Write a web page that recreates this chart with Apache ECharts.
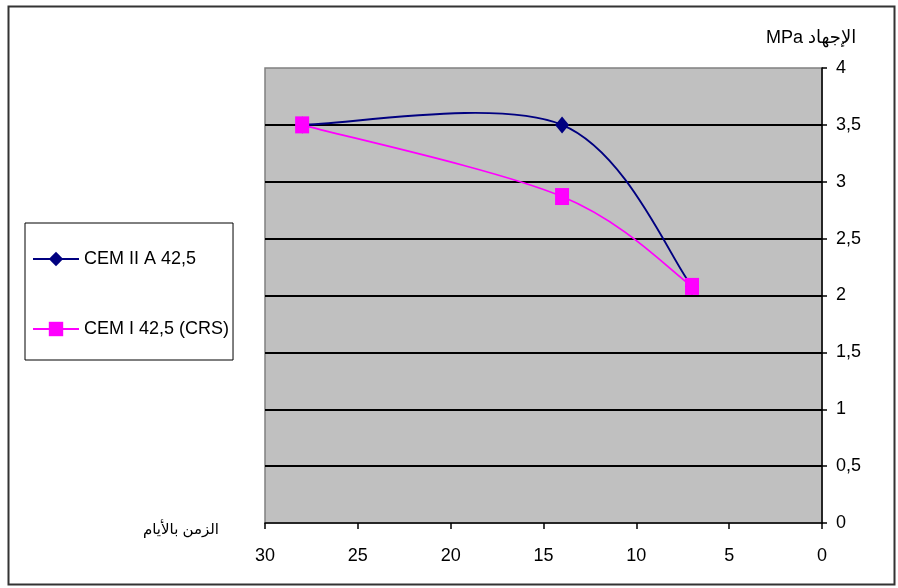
<!DOCTYPE html>
<html>
<head>
<meta charset="utf-8">
<script src="https://cdn.jsdelivr.net/npm/echarts@6/dist/echarts.min.js"></script>
<style>
html,body{margin:0;padding:0;background:#fff;}
#chart{width:898px;height:588px;}
</style>
</head>
<body>
<div id="chart"></div>
<script>
// ---- data ----
const days = [28, 14, 7];
const cemIIA = [3.5, 3.5, 2.08];
const cemICRS = [3.5, 2.87, 2.08];
const seriesNames = ['CEM II A 42,5', 'CEM I 42,5 (CRS)'];
const xTicks = [0, 5, 10, 15, 20, 25, 30];
const yTicks = [0, 0.5, 1, 1.5, 2, 2.5, 3, 3.5, 4];
const yTitle = 'MPa الإجهاد';
const xTitle = 'الزمن بالأيام';

const FONT = "'Liberation Sans', 'DejaVu Sans', Arial, sans-serif";
const NAVY = '#000080';
const PINK = '#ff00ff';

// Excel-like smoothed curve (Catmull-Rom / 6) drawn through axis scales
function curveSeries(name, xs, ys, color) {
  return {
    type: 'custom',
    name: name,
    data: xs.map((x, i) => [x, ys[i]]),
    encode: { x: 0, y: 1 },
    z: 2,
    silent: true,
    renderItem: function (params, api) {
      const i = params.dataIndex;
      const n = xs.length;
      if (i >= n - 1) return { type: 'group', children: [] };
      const P = k => {
        const j = Math.max(0, Math.min(n - 1, k));
        return api.coord([xs[j], ys[j]]);
      };
      const p0 = P(i - 1), p1 = P(i), p2 = P(i + 1), p3 = P(i + 2);
      return {
        type: 'bezierCurve',
        shape: {
          x1: p1[0], y1: p1[1], x2: p2[0], y2: p2[1],
          cpx1: p1[0] + (p2[0] - p0[0]) / 6,
          cpy1: p1[1] + (p2[1] - p0[1]) / 6,
          cpx2: p2[0] - (p3[0] - p1[0]) / 6,
          cpy2: p2[1] - (p3[1] - p1[1]) / 6
        },
        style: { stroke: color, lineWidth: 1.8, fill: null }
      };
    }
  };
}

const chart = echarts.init(document.getElementById('chart'), null, { renderer: 'canvas' });
chart.setOption({
  animation: false,
  backgroundColor: '#ffffff',
  grid: {
    left: 265, right: 76, top: 68, bottom: 65,
    show: true, backgroundColor: '#c0c0c0', borderColor: '#808080', borderWidth: 1.5
  },
  xAxis: {
    type: 'value', min: 0, max: 30, interval: 5, inverse: true, position: 'bottom',
    axisLine: { show: true, onZero: false, lineStyle: { color: '#000', width: 1.5 } },
    axisTick: { show: true, inside: false, length: 6, lineStyle: { color: '#000', width: 1.5 } },
    axisLabel: { color: '#000', fontSize: 18, fontFamily: FONT, margin: 24,
      formatter: v => xTicks.includes(v) ? String(v) : '' },
    splitLine: { show: false }
  },
  yAxis: {
    type: 'value', min: 0, max: 4, interval: 0.5, position: 'right',
    axisLine: { show: true, onZero: false, lineStyle: { color: '#000', width: 1.5 } },
    axisTick: { show: true, inside: false, length: 5, lineStyle: { color: '#000', width: 1.5 } },
    axisLabel: { color: '#000', fontSize: 18, fontFamily: FONT, margin: 14,
      formatter: v => yTicks.includes(v) ? String(v).replace('.', ',') : '' },
    splitLine: { show: true, showMaxLine: false, showMinLine: false,
      lineStyle: { color: '#000', width: 2 } }
  },
  legend: {
    orient: 'vertical',
    left: 25, top: 223,
    padding: [27, 4, 22, 7],
    itemGap: 52,
    itemWidth: 46, itemHeight: 18,
    itemTextGap: 6,
    borderColor: '#000', borderWidth: 1,
    backgroundColor: '#ffffff',
    textStyle: { color: '#000', fontSize: 18, fontFamily: FONT },
    data: [
      { name: seriesNames[0], itemStyle: { color: NAVY },
        lineStyle: { color: NAVY, width: 2, opacity: 1 } },
      { name: seriesNames[1], itemStyle: { color: PINK },
        lineStyle: { color: PINK, width: 2, opacity: 1 } }
    ]
  },
  graphic: [
    { type: 'rect', silent: true, z: -10,
      shape: { x: 8.5, y: 6.5, width: 886, height: 578 },
      style: { fill: null, stroke: '#333', lineWidth: 2 } },
    { type: 'text', left: 766, top: 29,
      style: { text: yTitle, fill: '#000', fontSize: 18, fontFamily: FONT } },
    { type: 'text', left: 143, top: 522,
      style: { text: xTitle, fill: '#000', fontSize: 15, fontFamily: FONT } }
  ],
  series: [
    curveSeries('c0', days, cemIIA, NAVY),
    curveSeries('c1', days, cemICRS, PINK),
    {
      type: 'line', name: seriesNames[0],
      data: days.map((d, i) => [d, cemIIA[i]]),
      symbol: 'diamond', symbolSize: [14, 17], showSymbol: true,
      lineStyle: { width: 0, opacity: 0, color: NAVY },
      itemStyle: { color: NAVY },
      z: 3
    },
    {
      type: 'line', name: seriesNames[1],
      data: days.map((d, i) => [d, cemICRS[i]]),
      symbol: 'rect', symbolSize: [14, 17], showSymbol: true,
      lineStyle: { width: 0, opacity: 0, color: PINK },
      itemStyle: { color: PINK },
      z: 4
    }
  ]
});
</script>
</body>
</html>
